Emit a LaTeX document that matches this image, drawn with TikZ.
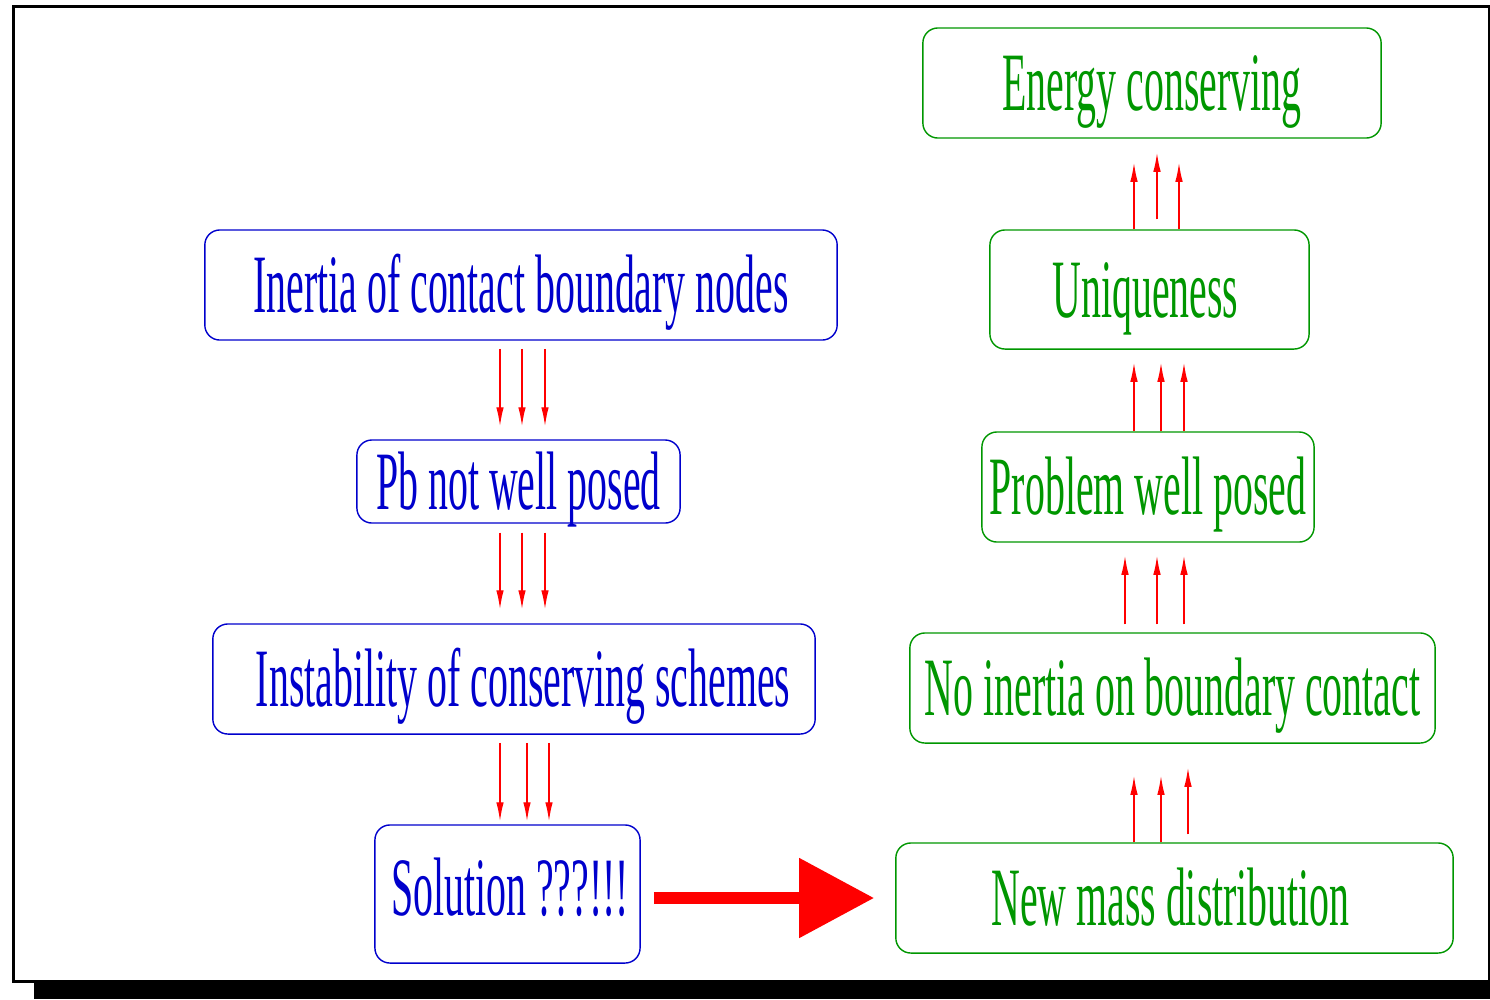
\documentclass[tikz,border=0pt]{standalone}
\usepackage{fontspec}
\newfontfamily\narrowserif[FakeStretch=0.48]{Liberation Serif}
\usetikzlibrary{arrows.meta,positioning}
\definecolor{boxBlue}{RGB}{0,0,204}
\definecolor{boxGreen}{RGB}{0,150,0}

\begin{document}
\begin{tikzpicture}[x=0.01cm, y=-0.01cm,
    box/.style={draw, rounded corners=0.15cm, line width=0.4pt, inner sep=0pt,
      font=\narrowserif\fontsize{23.6}{28}\selectfont, text height=0.55cm, text depth=0pt},
    leftbox/.style={box, draw=boxBlue, text=boxBlue},
    rightbox/.style={box, draw=boxGreen, text=boxGreen},
    thinarr/.style={red, line width=0.4pt, -{Latex[length=0.19cm,width=0.075cm]}},
  ]
  \useasboundingbox (0,0) rectangle (1490,999);

  % frame with shadow
  \fill (34,983) rectangle (1490,999);
  \draw[line width=0.035cm] (13.5,6.5) rectangle (1490,981.5);

  % left column
  \node[leftbox, minimum width=6.32cm, minimum height=1.10cm] (inertia) at (521,285) {Inertia of contact boundary nodes};
  \node[leftbox, minimum width=3.23cm, minimum height=0.83cm] (pbnot) at (518.5,481.5) {Pb not well posed};
  \node[leftbox, minimum width=6.02cm, minimum height=1.10cm] (instab) at (514,679) {\hspace{0.18cm}Instability of conserving schemes};
  \node[leftbox, minimum width=2.65cm, minimum height=1.38cm, text depth=0.12cm] (solution) at (507.5,894) {\hspace{0.05cm}Solution ???!!!};

  % right column
  \node[rightbox, minimum width=4.58cm, minimum height=1.10cm] (energy) at (1152,83) {Energy conserving};
  \node[rightbox, minimum width=3.19cm, minimum height=1.19cm] (unique) at (1149.5,289.5) {Uniqueness\kern0.08cm};
  \node[rightbox, minimum width=3.32cm, minimum height=1.10cm] (wellposed) at (1148,487) {Problem well posed};
  \node[rightbox, minimum width=5.25cm, minimum height=1.10cm] (noinertia) at (1172.5,688) {No inertia on boundary contact};
  \node[rightbox, minimum width=5.57cm, minimum height=1.10cm] (newmass) at (1174.5,898) {New mass distribution\kern0.08cm};

  % down arrows
  \foreach \dx in {-21,1,24}
    \draw[thinarr, shorten <=0.08cm, shorten >=0.13cm] ([xshift=\dx*0.01cm]inertia.south) -- ([xshift=\dx*0.01cm]inertia.south |- pbnot.north);
  \foreach \dx in {-18.5,3.5,26.5}
    \draw[thinarr, shorten <=0.09cm, shorten >=0.14cm] ([xshift=\dx*0.01cm]pbnot.south) -- ([xshift=\dx*0.01cm]pbnot.south |- instab.north);
  \foreach \dx in {-14,13,35}
    \draw[thinarr, shorten <=0.08cm, shorten >=0.03cm] ([xshift=\dx*0.01cm]instab.south) -- ([xshift=\dx*0.01cm]instab.south |- solution.north);

  % up arrows
  \foreach \dx/\s/\e in {-15.5/0/0.24, 7.5/0.10/0.14, 29.5/0/0.24}
    \draw[thinarr, shorten <=\s cm, shorten >=\e cm] ([xshift=\dx*0.01cm]unique.north) -- ([xshift=\dx*0.01cm]unique.north |- energy.south);
  \foreach \dx in {-14,13,36}
    \draw[thinarr, shorten >=0.13cm] ([xshift=\dx*0.01cm]wellposed.north) -- ([xshift=\dx*0.01cm]wellposed.north |- unique.south);
  \foreach \dx in {-47.5,-15.5,11.5}
    \draw[thinarr, shorten <=0.08cm, shorten >=0.13cm] ([xshift=\dx*0.01cm]noinertia.north) -- ([xshift=\dx*0.01cm]noinertia.north |- wellposed.south);
  \foreach \dx/\s/\e in {-40.5/0/0.32, -13.5/0/0.32, 13.5/0.08/0.24}
    \draw[thinarr, shorten <=\s cm, shorten >=\e cm] ([xshift=\dx*0.01cm]newmass.north) -- ([xshift=\dx*0.01cm]newmass.north |- noinertia.south);

  % big arrow
  \draw[red, line width=0.12cm, -{Triangle[length=0.75cm,width=0.77cm]}, shorten <=0.13cm, shorten >=0.21cm]
    (solution.east |- newmass.west) -- (newmass.west);
\end{tikzpicture}
\end{document}
